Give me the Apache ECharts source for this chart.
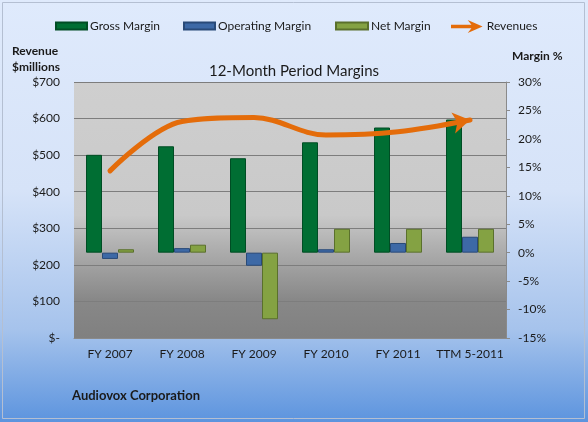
<!DOCTYPE html>
<html><head><meta charset="utf-8">
<script src="https://cdn.jsdelivr.net/npm/echarts@6/dist/echarts.min.js"></script>
<style>html,body{margin:0;padding:0;}#c{width:588px;height:422px;}</style>
</head><body><div id="c"></div>
<script>
var categories = ['FY 2007','FY 2008','FY 2009','FY 2010','FY 2011','TTM 5-2011'];
var grossMargin = [17.2, 18.7, 16.6, 19.4, 22.0, 23.4];
var operatingMargin = [-1.1, 0.8, -2.3, 0.6, 1.7, 2.8];
var netMargin = [0.6, 1.4, -11.7, 4.2, 4.2, 4.2];
var revenues = [457, 592, 603, 555, 564, 596];

var FONT = 'Lato';
var chart = echarts.init(document.getElementById('c'));
var lg = function(name, left, w, h, icon){
  return {data:[{name:name, icon:icon||'rect'}], left:left, top:20, padding:0, itemWidth:w, itemHeight:h, itemGap:0,
    textStyle:{fontFamily:FONT, fontSize:12, color:'#1a1a1a', padding:[0,0,0,-2]}, selectedMode:false};
};
var revData = revenues.map(function(v,i){
  if(i===revenues.length-1) return {value:v, symbol:'arrow', symbolSize:[16,17], symbolRotate:-80, symbolKeepAspect:false};
  return {value:v, symbol:'none'};
});
chart.setOption({
  animation:false,
  backgroundColor:{type:'linear',x:0,y:0,x2:0,y2:1,colorStops:[
    {offset:0,color:'#dfeafc'},{offset:0.45,color:'#d6e3f8'},{offset:0.78,color:'#a6c3ec'},{offset:1,color:'#5c94de'}]},
  graphic:[{type:'rect',shape:{x:2.5,y:2.5,width:582,height:416},style:{fill:'none',stroke:'#b4bfd2',lineWidth:1},silent:true}],
  title:[
    {text:'12-Month Period Margins',left:'center',top:59,textStyle:{fontFamily:FONT,fontSize:15,fontWeight:'normal',color:'#1a1a1a'}},
    {text:'Revenue\n$millions',left:12,top:43,padding:0,textStyle:{fontFamily:FONT,fontSize:12,fontWeight:'bold',color:'#1a1a1a',lineHeight:16}},
    {text:'Margin %',left:512,top:50,padding:0,textStyle:{fontFamily:FONT,fontSize:12,fontWeight:'bold',color:'#1a1a1a'}},
    {text:'Audiovox Corporation',left:72,top:389,padding:0,textStyle:{fontFamily:FONT,fontSize:13,fontWeight:'bold',color:'#1a1a1a'}}
  ],
  legend:[
    lg('Gross Margin',55,31,7),
    lg('Operating Margin',183,31,7),
    lg('Net Margin',335,32,7),
    lg('Revenues',451,34,13,'path://M0,5 L22,5 L18,0 L34,7 L18,14 L22,9 L0,9 Z')
  ],
  grid:{left:74,right:82,top:82,bottom:84,show:true,borderWidth:0,
    backgroundColor:{type:'linear',x:0,y:0,x2:0,y2:1,colorStops:[
      {offset:0,color:'#cfcfcf'},{offset:0.52,color:'#c9c9c9'},{offset:0.64,color:'#b0b0b0'},{offset:0.85,color:'#888888'},{offset:1,color:'#808080'}]}},
  xAxis:{type:'category',data:categories,
    axisLine:{show:true,lineStyle:{color:'#8a8a8a'}},axisTick:{show:false},
    axisLabel:{fontFamily:FONT,fontSize:12,color:'#1a1a1a',margin:10,interval:0}},
  yAxis:[
    {type:'value',min:0,max:700,interval:100,position:'left',
      axisLine:{show:false},axisTick:{show:false},
      splitLine:{show:true,lineStyle:{color:'#7d7d7d',width:1}},
      axisLabel:{fontFamily:FONT,fontSize:12,color:'#1a1a1a',margin:14,
        formatter:function(v){return v===0?'$-':'$'+v;}}},
    {type:'value',min:-15,max:30,interval:5,position:'right',
      axisLine:{show:true,lineStyle:{color:'#8a8a8a'}},
      axisTick:{show:true,length:4,lineStyle:{color:'#8a8a8a'}},
      splitLine:{show:false},
      axisLabel:{fontFamily:FONT,fontSize:12,color:'#1a1a1a',margin:12,formatter:'{value}%'}}
  ],
  series:[
    {name:'Gross Margin',type:'bar',yAxisIndex:1,data:grossMargin,barWidth:16,barGap:'0%',
      itemStyle:{color:'#006e33',borderColor:'#004d24',borderWidth:1}},
    {name:'Operating Margin',type:'bar',yAxisIndex:1,data:operatingMargin,barWidth:16,barGap:'0%',
      itemStyle:{color:'#3d69a6',borderColor:'#294a78',borderWidth:1}},
    {name:'Net Margin',type:'bar',yAxisIndex:1,data:netMargin,barWidth:16,barGap:'0%',
      itemStyle:{color:'#84a243',borderColor:'#5a702c',borderWidth:1}},
    {name:'Revenues',type:'line',yAxisIndex:0,data:revData,smooth:0.35,showSymbol:true,
      lineStyle:{color:'#e46c0a',width:5,cap:'round'},itemStyle:{color:'#e46c0a'},z:5}
  ]
});
</script></body></html>
